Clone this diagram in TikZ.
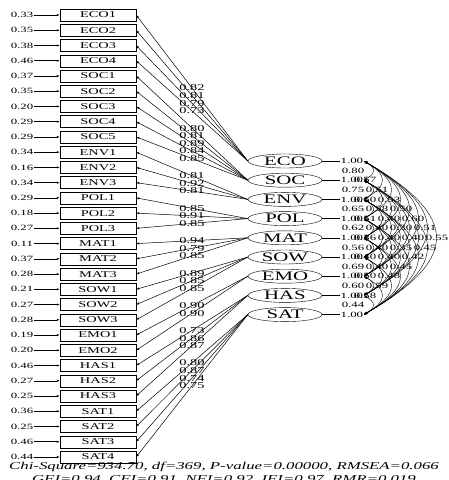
\documentclass[tikz,border=0pt]{standalone}
\usepackage{fontspec}
\setmainfont{Liberation Serif}[FakeStretch=1.6]
\usetikzlibrary{arrows.meta,shapes.geometric}

\begin{document}
\begin{tikzpicture}[x=1pt,y=-1pt,
    obs/.style={draw,minimum width=76pt,minimum height=12pt,inner sep=0pt,
        font=\fontsize{9}{9}\selectfont},
    lat/.style={draw,ellipse,minimum width=74pt,minimum height=14pt,inner sep=0pt,
        font=\fontsize{13}{13}\selectfont},
    num/.style={inner sep=0.5pt,font=\fontsize{8}{8}\selectfont},
    ldg/.style={inner sep=0pt,font=\fontsize{9}{9}\selectfont},
    tip/.style={-{Latex[length=3pt,width=2.2pt]},line width=0.5pt},
    cov/.style={{Latex[length=3.5pt,width=2.4pt]}-{Latex[length=3.5pt,width=2.4pt]},
        line width=0.4pt}]
    \useasboundingbox (0,0) rectangle (448,480);
    % observed variables with error variances
    \foreach \nm/\e [count=\k from 0] in {ECO1/0.33,ECO2/0.35,ECO3/0.38,ECO4/0.46,
        SOC1/0.37,SOC2/0.35,SOC3/0.20,SOC4/0.29,SOC5/0.29,ENV1/0.34,ENV2/0.16,ENV3/0.34,
        POL1/0.29,POL2/0.18,POL3/0.27,MAT1/0.11,MAT2/0.37,MAT3/0.28,SOW1/0.21,SOW2/0.27,
        SOW3/0.28,EMO1/0.19,EMO2/0.20,HAS1/0.46,HAS2/0.27,HAS3/0.25,SAT1/0.36,SAT2/0.25,
        SAT3/0.46,SAT4/0.44} {
        \node[obs] (\nm) at (98,{15+15.24*\k}) {\nm};
        \node[num] (e\nm) at (22,{15+15.24*\k}) {\e};
        \draw[tip] (e\nm) -- (\nm);
    }
    % latent variables with variances
    \foreach \nm [count=\j from 0] in {ECO,SOC,ENV,POL,MAT,SOW,EMO,HAS,SAT} {
        \node[lat] (\nm) at (285,{161+19.2*\j}) {\nm};
        \node[num,anchor=west] (v\j) at (340,{161+19.2*\j}) {1.00};
        \draw (\nm) -- (v\j);
    }
    % loadings
    \foreach \lv/\ov/\ld in {ECO/ECO1/0.82,ECO/ECO2/0.81,ECO/ECO3/0.79,ECO/ECO4/0.73,
        SOC/SOC1/0.80,SOC/SOC2/0.81,SOC/SOC3/0.89,SOC/SOC4/0.84,SOC/SOC5/0.85,
        ENV/ENV1/0.81,ENV/ENV2/0.92,ENV/ENV3/0.81,POL/POL1/0.85,POL/POL2/0.91,POL/POL3/0.85,
        MAT/MAT1/0.94,MAT/MAT2/0.79,MAT/MAT3/0.85,SOW/SOW1/0.89,SOW/SOW2/0.85,SOW/SOW3/0.85,
        EMO/EMO1/0.90,EMO/EMO2/0.90,HAS/HAS1/0.73,HAS/HAS2/0.86,HAS/HAS3/0.87,
        SAT/SAT1/0.80,SAT/SAT2/0.87,SAT/SAT3/0.74,SAT/SAT4/0.75}
        \draw[tip] (\lv.west) -- node[ldg,pos=0.5] {\ld} (\ov.east);
    % correlations between latent variables
    \foreach \i/\j/\r in {0/1/0.80,0/2/0.57,0/3/0.51,0/4/0.53,0/5/0.50,0/6/0.60,0/7/0.51,0/8/0.55,
        1/2/0.75,1/3/0.60,1/4/0.58,1/5/0.40,1/6/0.30,1/7/0.40,1/8/0.45,
        2/3/0.65,2/4/0.51,2/5/0.40,2/6/0.40,2/7/0.35,2/8/0.42,
        3/4/0.62,3/5/0.36,3/6/0.40,3/7/0.40,3/8/0.45,
        4/5/0.56,4/6/0.40,4/7/0.40,4/8/0.48,
        5/6/0.69,5/7/0.50,5/8/0.59,6/7/0.60,6/8/0.58,7/8/0.44} {
        \draw[cov] (v\i.east) to[out=-30,in=30,looseness=1.85] (v\j.east);
        \node[num] at ({341+12*(\j-\i)},{161+9.6*(\i+\j)}) {\r};
    }
    % fit indices
    \node[font=\fontsize{10.5}{10.5}\selectfont\itshape,inner sep=0pt] (fit1) at (224,467)
        {Chi-Square=934.70, df=369, P-value=0.00000, RMSEA=0.066};
    \node[font=\fontsize{10.5}{10.5}\selectfont\itshape,inner sep=0pt] (fit2) at (224,480)
        {GFI=0.94, CFI=0.91, NFI=0.92, IFI=0.97, RMR=0.019};
\end{tikzpicture}
\end{document}
